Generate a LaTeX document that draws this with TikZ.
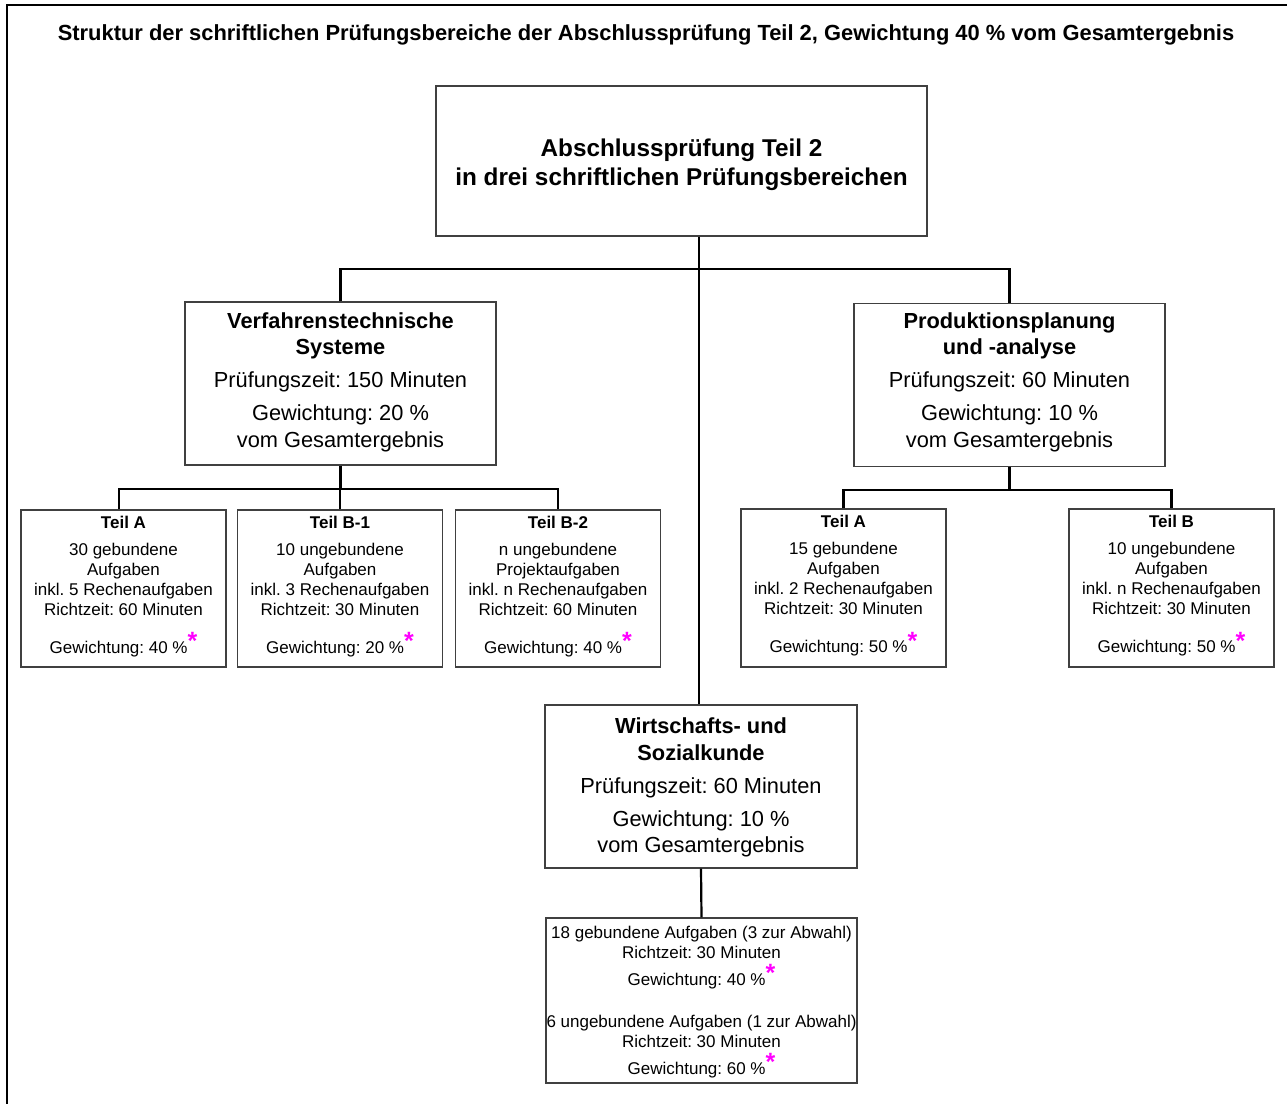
\documentclass[tikz,border=0pt]{standalone}
\usepackage{fontspec}
\setmainfont{Liberation Sans}
\usepackage{xcolor}
\definecolor{starpink}{RGB}{255,0,255}
\newcommand{\stern}{\raisebox{3.5pt}{\textcolor{starpink}{\fontsize{25}{25}\selectfont\bfseries *}}}
\frenchspacing
\begin{document}
\begin{tikzpicture}[x=1pt,y=-1pt,
  box/.style={draw=black!75, line width=1.3pt, inner sep=0pt, fill=white},
  txt/.style={inner sep=0pt, align=center},
  conn/.style={line width=2.2pt, black},
  small/.style={minimum width=205pt, minimum height=157pt},
  smalltxt/.style={txt, font=\fontsize{17}{20}\selectfont},
  mid/.style={minimum width=311pt, minimum height=163pt},
  midtxt/.style={txt, font=\fontsize{21.8}{26.5}\selectfont}]
\frenchspacing
\useasboundingbox (0,0) rectangle (1287,1103);
\fill[white] (0,0) rectangle (1287,1103);
% frame
\draw[line width=2.6pt] (7,1110) -- (7,5) -- (1295,5);
% title
\node[font=\fontsize{21.9}{26}\selectfont\bfseries] (title) at (646,35)
  {Struktur der schriftlichen Prüfungsbereiche der Abschlussprüfung Teil 2, Gewichtung 40 \% vom Gesamtergebnis};
% main boxes
\node[box, minimum width=491pt, minimum height=150pt] (top) at (681.5,161) {};
\node[txt, font=\fontsize{24.3}{29}\selectfont\bfseries] (toptxt) at ([yshift=-4pt]top.center)
  {Abschlussprüfung Teil 2\\in drei schriftlichen Prüfungsbereichen};
\node[box, mid] (vt) at (340.5,383.5) {};
\node[midtxt] (vttxt) at ([yshift=1.5pt]vt.center)
  {\textbf{Verfahrenstechnische}\\\textbf{Systeme}\\[6.5pt]Prüfungszeit: 150 Minuten\\[6.5pt]Gewichtung: 20 \%\\vom Gesamtergebnis};
\node[box, mid] (pp) at (1009.5,385) {};
\node[midtxt] (pptxt) at ([yshift=3pt]pp.center)
  {\textbf{Produktionsplanung}\\\textbf{und -analyse}\\[6.5pt]Prüfungszeit: 60 Minuten\\[6.5pt]Gewichtung: 10 \%\\vom Gesamtergebnis};
\node[box, mid, minimum width=312pt] (wiso) at (701,786.5) {};
\node[midtxt] (wisotxt) at ([yshift=-1pt]wiso.center)
  {\textbf{Wirtschafts- und}\\\textbf{Sozialkunde}\\[6.5pt]Prüfungszeit: 60 Minuten\\[6.5pt]Gewichtung: 10 \%\\vom Gesamtergebnis};
% small boxes
\node[box, small] (ta) at (123.5,588.5) {};
\node[smalltxt] (tatxt) at ([yshift=2pt]ta.center)
  {\textbf{Teil A}\\[7pt]30 gebundene\\Aufgaben\\inkl. 5 Rechenaufgaben\\Richtzeit: 60 Minuten\\[16pt]Gewichtung: 40 \%\stern};
\node[box, small] (tb1) at (340,588.5) {};
\node[smalltxt] (tb1txt) at ([yshift=2pt]tb1.center)
  {\textbf{Teil B-1}\\[7pt]10 ungebundene\\Aufgaben\\inkl. 3 Rechenaufgaben\\Richtzeit: 30 Minuten\\[16pt]Gewichtung: 20 \%\stern};
\node[box, small] (tb2) at (558,588.5) {};
\node[smalltxt] (tb2txt) at ([yshift=2pt]tb2.center)
  {\textbf{Teil B-2}\\[7pt]n ungebundene\\Projektaufgaben\\inkl. n Rechenaufgaben\\Richtzeit: 60 Minuten\\[16pt]Gewichtung: 40 \%\stern};
\node[box, small, minimum height=158pt] (ra) at (843.5,588) {};
\node[smalltxt] (ratxt) at ([yshift=2pt]ra.center)
  {\textbf{Teil A}\\[7pt]15 gebundene\\Aufgaben\\inkl. 2 Rechenaufgaben\\Richtzeit: 30 Minuten\\[16pt]Gewichtung: 50 \%\stern};
\node[box, small, minimum height=158pt] (rb) at (1171.5,588) {};
\node[smalltxt] (rbtxt) at ([yshift=2pt]rb.center)
  {\textbf{Teil B}\\[7pt]10 ungebundene\\Aufgaben\\inkl. n Rechenaufgaben\\Richtzeit: 30 Minuten\\[16pt]Gewichtung: 50 \%\stern};
\node[box, minimum width=311pt, minimum height=165pt] (wb) at (701.5,1000.5) {};
\node[smalltxt] (wbtxt) at ([yshift=-1.5pt]wb.center)
  {18 gebundene Aufgaben (3 zur Abwahl)\\Richtzeit: 30 Minuten\\[5pt]Gewichtung: 40 \%\stern\\[22pt]6 ungebundene Aufgaben (1 zur Abwahl)\\Richtzeit: 30 Minuten\\[5pt]Gewichtung: 60 \%\stern};
% connectors
\coordinate (bar) at (699,269);
\draw[conn] (top.south -| bar) -- (bar |- wiso.north);
\draw[conn] (vt.north) |- (bar) -| (pp.north);
\coordinate (vtj) at (340.5,489);
\draw[conn] (vt.south) -- (vtj);
\draw[conn] ([xshift=-4.5pt]ta.north) |- (vtj) -| (tb2.north);
\draw[conn] (tb1.north) -- (tb1.north |- vtj);
\coordinate (ppj) at (1009.5,490);
\draw[conn] (pp.south) -- (ppj);
\draw[conn] (ra.north) |- (ppj) -| (rb.north);
\draw[conn] (wiso.south) -- (wb.north);
\end{tikzpicture}
\end{document}
